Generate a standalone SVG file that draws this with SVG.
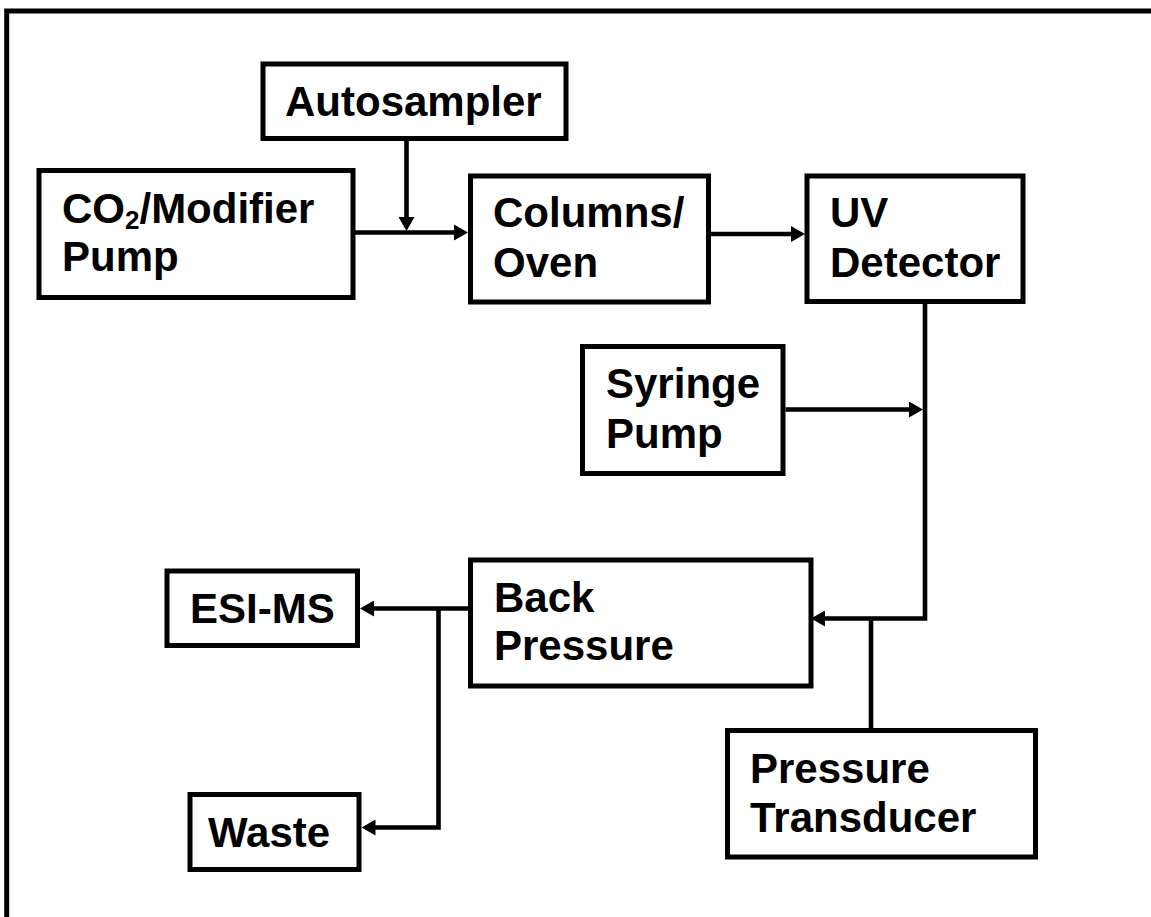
<svg xmlns="http://www.w3.org/2000/svg" width="1151" height="917" viewBox="0 0 1151 917">
  <style>
    .box { fill: #fff; stroke: #000; stroke-width: 5; }
    .lbl { font-family: "Liberation Sans", Arial, Helvetica, sans-serif; font-weight: bold; font-size: 42px; fill: #000; }
    .sub { font-size: 26px; }
    .wire { fill: none; stroke: #000; stroke-width: 4.6; stroke-linejoin: miter; }
    .frame { fill: none; stroke: #000; stroke-width: 5; }
  </style>
  <defs>
    <marker id="arrow" markerUnits="userSpaceOnUse" markerWidth="14" markerHeight="16" viewBox="0 0 14 16" refX="2" refY="8" orient="auto">
      <path d="M0,0 L14,8 L0,16 Z" fill="#000"/>
    </marker>
  </defs>
  <rect x="0" y="0" width="1151" height="917" fill="#fff"/>
  <path class="frame" d="M6.7,917 V11 H1151"/>

  <g id="connectors">
    <path class="wire" d="M355,232.5 H456" marker-end="url(#arrow)"/>
    <path class="wire" d="M406.5,141 V219" marker-end="url(#arrow)"/>
    <path class="wire" d="M711,234 H793" marker-end="url(#arrow)"/>
    <path class="wire" d="M925,304 V618.5 H823" marker-end="url(#arrow)"/>
    <path class="wire" d="M785.5,409.5 H911" marker-end="url(#arrow)"/>
    <path class="wire" d="M871,618.5 V728"/>
    <path class="wire" d="M468,608.5 H372" marker-end="url(#arrow)"/>
    <path class="wire" d="M438.5,608.5 V827.5 H373.5" marker-end="url(#arrow)"/>
  </g>

  <g id="autosampler">
    <rect class="box" x="263" y="64" width="303" height="74.5"/>
    <text class="lbl" x="285" y="116">Autosampler</text>
  </g>
  <g id="co2-pump">
    <rect class="box" x="39" y="170.5" width="314" height="127"/>
    <text class="lbl" x="62" y="223">CO<tspan class="sub" dy="6">2</tspan><tspan dy="-6">/Modifier</tspan></text>
    <text class="lbl" x="62" y="271">Pump</text>
  </g>
  <g id="columns-oven">
    <rect class="box" x="470.5" y="176" width="238" height="126"/>
    <text class="lbl" x="493" y="227">Columns/</text>
    <text class="lbl" x="493" y="277">Oven</text>
  </g>
  <g id="uv-detector">
    <rect class="box" x="807" y="176" width="216" height="125.5"/>
    <text class="lbl" x="830" y="227">UV</text>
    <text class="lbl" x="830" y="277">Detector</text>
  </g>
  <g id="syringe-pump">
    <rect class="box" x="582.5" y="346.5" width="200.5" height="127"/>
    <text class="lbl" x="606" y="398">Syringe</text>
    <text class="lbl" x="606" y="448">Pump</text>
  </g>
  <g id="back-pressure">
    <rect class="box" x="470.5" y="560" width="340.5" height="126"/>
    <text class="lbl" x="494" y="612">Back</text>
    <text class="lbl" x="494" y="660">Pressure</text>
  </g>
  <g id="esi-ms">
    <rect class="box" x="167" y="571" width="190.5" height="74.5"/>
    <text class="lbl" x="190" y="623">ESI-MS</text>
  </g>
  <g id="waste">
    <rect class="box" x="190" y="794.5" width="169" height="75"/>
    <text class="lbl" x="208" y="847">Waste</text>
  </g>
  <g id="pressure-transducer">
    <rect class="box" x="727.5" y="730.5" width="308" height="126.5"/>
    <text class="lbl" x="750" y="783">Pressure</text>
    <text class="lbl" x="750" y="832">Transducer</text>
  </g>
</svg>
